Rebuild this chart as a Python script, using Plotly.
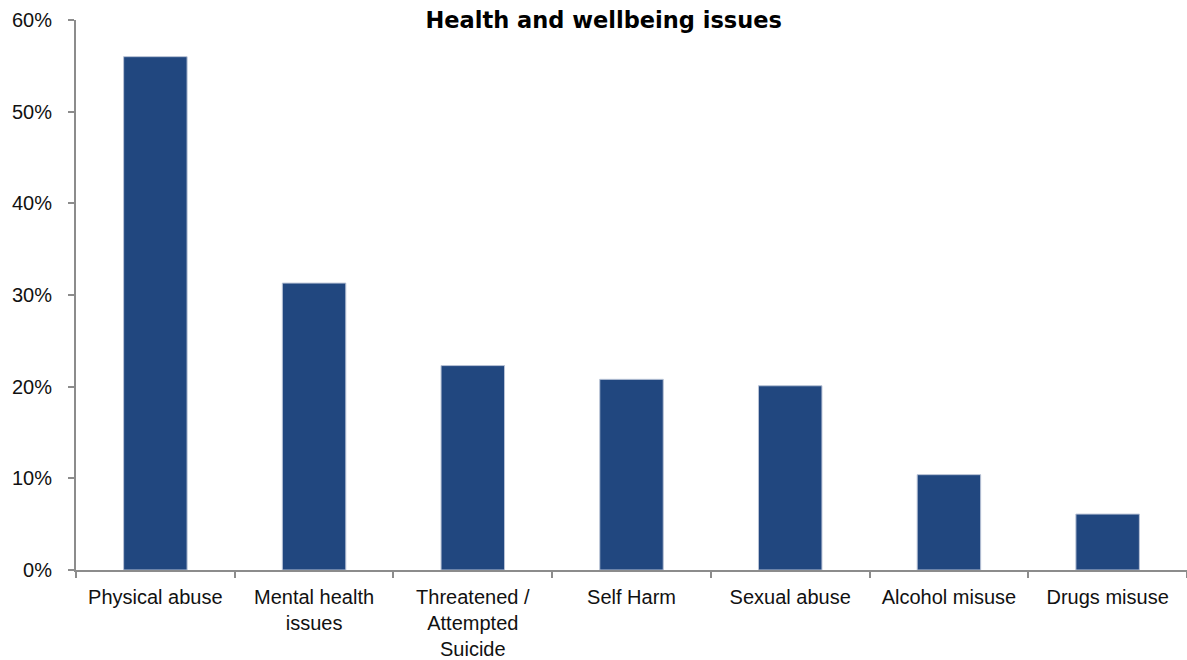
import plotly.graph_objects as go

categories = [
    "Physical abuse",
    "Mental health<br>issues",
    "Threatened /<br>Attempted<br>Suicide",
    "Self Harm",
    "Sexual abuse",
    "Alcohol misuse",
    "Drugs misuse",
]
percentages = [56.0, 31.3, 22.3, 20.8, 20.1, 10.4, 6.1]
y_ticks = [0, 10, 20, 30, 40, 50, 60]
y_tick_labels = [f"{v}%" for v in y_ticks]

axis_grey = "#8c8c8c"
bar_fill = "#21477f"

fig = go.Figure(
    go.Bar(
        x=categories,
        y=percentages,
        width=0.4,
        marker=dict(color=bar_fill, line=dict(color="#b9c3d6", width=1)),
        hoverinfo="x+y",
    )
)

fig.update_layout(
    width=1187,
    height=660,
    margin=dict(l=76, r=0, t=20, b=90),
    paper_bgcolor="white",
    plot_bgcolor="white",
    showlegend=False,
    font=dict(family="Liberation Sans, Arial, sans-serif", size=20, color="#111111"),
    title=dict(
        text="<b>Health and wellbeing issues</b>",
        font=dict(family="DejaVu Sans, Verdana, sans-serif", size=22.5, color="#000000"),
        x=0.475,
        xref="paper",
        xanchor="center",
        y=1 - 20 / 660,
        yref="container",
        yanchor="middle",
    ),
    xaxis=dict(
        type="category",
        range=[-0.5, 6.5],
        automargin=False,
        showline=True,
        linecolor=axis_grey,
        linewidth=2,
        ticks="outside",
        tickson="boundaries",
        ticklen=6,
        tickcolor=axis_grey,
        tickwidth=2,
        showgrid=False,
        ticklabelstandoff=8,
        tickangle=0,
    ),
    yaxis=dict(
        range=[0, 60],
        automargin=False,
        tickvals=y_ticks,
        ticktext=y_tick_labels,
        showline=True,
        linecolor=axis_grey,
        linewidth=2,
        ticks="outside",
        ticklen=6,
        tickcolor=axis_grey,
        tickwidth=2,
        showgrid=False,
        zeroline=False,
        ticklabelstandoff=12,
    ),
)

fig.write_html("out.html")
